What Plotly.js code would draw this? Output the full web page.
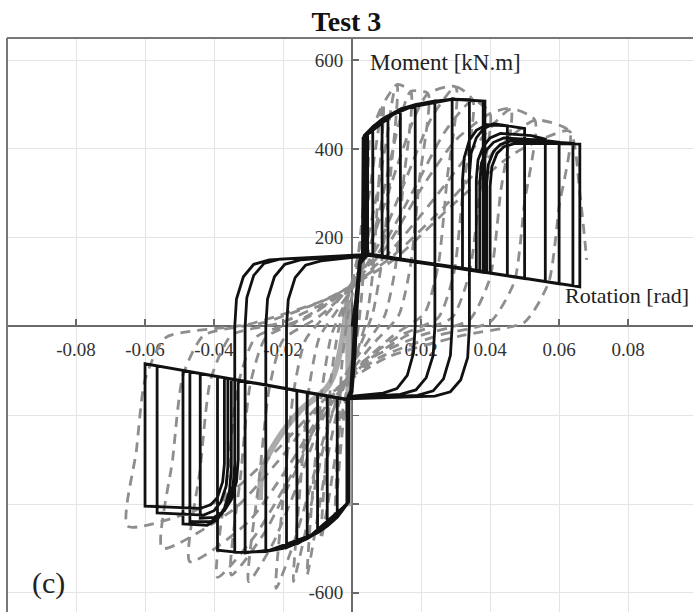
<!DOCTYPE html>
<html>
<head>
<meta charset="utf-8">
<script src="https://cdn.plot.ly/plotly-3.0.1.min.js"></script>
<style>
  html, body { margin: 0; padding: 0; background: #fff; overflow: hidden; }
  #chart { width: 693px; height: 612px; }
</style>
</head>
<body>
<div id="chart"></div>
<script>
// Moment-rotation response, Test 3.
// Numerical model: one continuous path of [rotation (rad), moment (kN.m)] vertices.
const modelPath = [
  // small cycles
  [0,0],[0.0012,70],[0.0022,145],[0.0032,165],[0.0032,425],[0.0045,438],[0.0045,163],[0.0032,165],
  [0.0021,145],[0.0012,70],[0.0006,-40],[-0.0002,-140],[-0.001,-165],[-0.001,-395],[-0.0015,-400],
  [-0.0015,-164],[-0.001,-165],[-0.0001,-145],[0.0008,-60],[0.0014,40],[0.0022,140],[0.0035,163],
  [0.0035,430],[0.006,450],[0.006,161],[0.0035,164],[0.0023,148],[0.0013,75],[0.0005,-45],[-0.0003,-142],
  [-0.0012,-163],[-0.0012,-398],[-0.0043,-430],[-0.0043,-160],[-0.0012,-164],[0,-148],[0.0009,-58],
  [0.0015,45],[0.0024,142],[0.004,162],
  [0.004,434],[0.006,450],[0.0087,467],[0.0087,158],[0.004,163],[0.0022,146],[0.0011,68],[0.0004,-42],
  [-0.0004,-144],[-0.0013,-164],[-0.0013,-399],[-0.0043,-430],[-0.0072,-450],[-0.0072,-156],[-0.0013,-165],
  [-0.0002,-146],[0.0007,-55],[0.0013,42],[0.0021,143],[0.0032,165],
  [0.0032,425],[0.006,450],[0.0087,467],[0.0104,475],[0.0104,156],[0.0032,166],[0.0021,145],[0.0012,70],
  [0.0006,-40],[-0.0002,-140],[-0.001,-165],[-0.001,-395],[-0.0043,-430],[-0.0072,-450],[-0.010,-465],
  [-0.010,-152],[-0.001,-166],[-0.0001,-145],[0.0008,-60],[0.0014,40],[0.0022,140],[0.0045,162],
  [0.0045,438],[0.0087,467],[0.014,490],[0.014,152],[0.0045,163],[0.0023,148],[0.0013,75],[0.0005,-45],
  [-0.0003,-142],[-0.0015,-164],[-0.0015,-400],[-0.0072,-450],[-0.013,-478],[-0.013,-148],[-0.0015,-165],
  [0,-148],[0.0009,-58],[0.0015,45],[0.0024,142],[0.0035,163],
  // medium cycles crossing zero moment at the reversal rotation
  [0.0035,430],[0.006,450],[0.014,490],[0.0183,500],[0.0183,0],[0.0178,-60],[0.016,-110],[0.013,-140],
  [0.009,-150],[-0.001,-158],[-0.001,-395],[-0.0072,-450],[-0.016,-490],[-0.016,-144],[-0.001,-165],
  [-0.0001,-145],[0.0008,-60],[0.0014,40],[0.0022,140],[0.004,162],
  [0.004,434],[0.0087,467],[0.014,490],[0.0183,500],[0.024,508],[0.024,0],[0.0235,-65],[0.0215,-115],
  [0.0185,-143],[0.014,-153],[-0.0012,-160],[-0.0012,-398],[-0.0072,-450],[-0.013,-478],[-0.019,-498],
  [-0.019,0],[-0.0185,60],[-0.0165,110],[-0.0135,138],[-0.009,148],[0.0032,158],
  [0.0032,425],[0.006,450],[0.014,490],[0.024,508],[0.029,512],[0.029,0],[0.0285,-65],[0.0265,-118],
  [0.0235,-145],[0.019,-155],[-0.001,-162],[-0.001,-395],[-0.010,-465],[-0.020,-500],[-0.025,-507],
  [-0.025,0],[-0.0245,62],[-0.0225,112],[-0.0195,140],[-0.015,150],[0.0035,160],
  [0.0035,430],[0.006,450],[0.014,490],[0.024,508],[0.029,512],[0.034,511],[0.034,0],[0.0335,-70],
  [0.0315,-120],[0.0285,-147],[0.024,-157],[-0.0015,-163],[-0.0015,-400],[-0.010,-465],[-0.020,-500],
  [-0.031,-510],[-0.031,0],[-0.0305,65],[-0.0285,115],[-0.0255,142],[-0.021,152],[0.004,162],
  [0.004,434],[0.0087,467],[0.019,501],[0.029,512],[0.038,508],[0.038,122],[0.004,163],[0.0022,146],
  [0.0011,68],[0.0004,-42],[-0.0004,-144],[-0.001,-165],[-0.001,-395],[-0.010,-465],[-0.025,-507],
  [-0.033,-509],[-0.039,-504],[-0.039,-113],[-0.001,-166],[-0.0001,-145],[0.0008,-60],[0.0014,40],
  [0.0022,140],[0.003,165],
  [0.0032,425],[0.014,490],[0.029,512],[0.0385,508],[0.0385,124],[0.003,165],[0.0021,145],[0.0012,70],
  [0.0006,-40],[-0.0002,-140],[-0.0012,-165],[-0.0012,-398],[-0.013,-478],[-0.025,-507],[-0.034,-509],
  [-0.034,0],[-0.0335,62],[-0.0315,112],[-0.0285,140],[-0.024,150],[0.003,162],
  // large cycles with degraded strength
  [0.032,130],[0.032,330],[0.0325,380],[0.034,420],[0.036,442],[0.039,455],[0.045,452],[0.045,114],
  [0.003,166],[0.0021,145],[0.0012,70],[0.0006,-40],[-0.0002,-140],[-0.001,-165],[-0.033,-121],
  [-0.033,-300],[-0.0335,-350],[-0.035,-390],[-0.037,-415],[-0.040,-430],[-0.044,-432],[-0.044,-106],
  [-0.001,-165],[-0.0001,-145],[0.0008,-60],[0.0014,40],[0.0022,140],[0.003,164],
  [0.034,128],[0.034,340],[0.0345,390],[0.036,425],[0.038,445],[0.041,457],[0.05,446],[0.05,108],
  [0.003,165],[0.0023,148],[0.0013,75],[0.0005,-45],[-0.0003,-142],[-0.0012,-164],[-0.034,-119],
  [-0.034,-310],[-0.0345,-360],[-0.036,-400],[-0.038,-425],[-0.041,-440],[-0.047,-440],[-0.047,-102],
  [-0.0012,-164],[0,-148],[0.0009,-58],[0.0015,45],[0.0024,142],[0.0035,163],
  [0.036,125],[0.036,330],[0.0365,375],[0.038,405],[0.040,425],[0.043,435],[0.052,430],[0.056,422],
  [0.056,101],[0.0035,165],[0.0022,146],[0.0011,68],[0.0004,-42],[-0.0004,-144],[-0.0013,-165],
  [-0.035,-118],[-0.035,-320],[-0.0355,-370],[-0.037,-410],[-0.039,-435],[-0.042,-448],[-0.049,-445],
  [-0.049,-99],[-0.0013,-165],[-0.0002,-146],[0.0007,-55],[0.0013,42],[0.0021,143],[0.003,165],
  [0.037,124],[0.037,325],[0.0375,368],[0.039,398],[0.041,415],[0.044,425],[0.055,420],[0.060,415],
  [0.060,96],[0.003,166],[0.0021,145],[0.0012,70],[0.0006,-40],[-0.0002,-140],[-0.001,-165],
  [-0.036,-117],[-0.036,-315],[-0.0365,-360],[-0.038,-395],[-0.040,-415],[-0.043,-425],[-0.0565,-420],
  [-0.0565,-89],[-0.001,-165],[-0.0001,-145],[0.0008,-60],[0.0014,40],[0.0022,140],[0.0032,165],
  [0.039,122],[0.039,320],[0.0395,365],[0.041,395],[0.043,410],[0.046,418],[0.058,416],[0.064,413],
  [0.064,92],[0.0032,165],[0.0023,148],[0.0013,75],[0.0005,-45],[-0.0003,-142],[-0.0012,-164],
  [-0.037,-116],[-0.037,-310],[-0.0375,-350],[-0.039,-385],[-0.041,-402],[-0.044,-410],[-0.060,-405],
  [-0.060,-84],[-0.0012,-164],[0,-148],[0.0009,-58],[0.0015,45],[0.0024,142],[0.0035,163],
  [0.040,121],[0.040,315],[0.0405,360],[0.042,390],[0.044,405],[0.047,412],[0.060,412],[0.066,411],
  [0.066,89],[0.0035,164],[0.0022,146],[0.0011,68],[0.0004,-42],[-0.0004,-144],[-0.0013,-165]
];

// Test record: cycles of increasing amplitude, [rotation (rad), moment (kN.m)].
const testPath = [
  [0.005,420],[0.004,250],[0.003,90],[0.0015,-20],[-0.001,-110],[-0.003,-250],[-0.005,-430],
  [-0.004,-260],[-0.003,-90],[-0.0015,10],[0.001,110],[0.003,250],[0.005,420],
  [0.009,500],[0.0075,300],[0.006,120],[0.004,10],[0.001,-70],[-0.002,-160],[-0.005,-300],[-0.007,-400],
  [-0.009,-480],[-0.0075,-290],[-0.006,-110],[-0.004,-10],[-0.001,70],[0.002,170],[0.005,300],[0.007,410],
  [0.009,500],
  [0.013,545],[0.011,330],[0.0085,140],[0.006,30],[0.002,-50],[-0.003,-150],[-0.007,-290],[-0.010,-430],
  [-0.013,-560],[-0.011,-330],[-0.0085,-130],[-0.006,-20],[-0.002,55],[0.003,150],[0.007,290],
  [0.010,420],[0.013,545],
  [0.017,530],[0.0148,320],[0.0125,130],[0.0095,25],[0.004,-40],[-0.002,-110],[-0.007,-230],[-0.011,-370],
  [-0.014,-480],[-0.017,-575],[-0.0148,-340],[-0.0125,-140],[-0.0095,-25],[-0.004,40],[0.002,110],
  [0.007,230],[0.011,370],[0.014,470],[0.017,530],
  [0.022,525],[0.0195,330],[0.017,140],[0.0135,25],[0.006,-40],[-0.001,-110],[-0.007,-220],[-0.012,-360],
  [-0.017,-490],[-0.022,-590],[-0.0195,-350],[-0.017,-150],[-0.0135,-30],[-0.006,40],[0.001,110],
  [0.007,220],[0.013,360],[0.018,470],[0.022,525],
  [0.03,540],[0.0275,330],[0.025,140],[0.021,30],[0.012,-20],[0.002,-90],[-0.008,-200],[-0.016,-360],
  [-0.023,-490],[-0.03,-575],[-0.027,-350],[-0.024,-140],[-0.02,-30],[-0.01,20],[0,90],[0.008,190],
  [0.016,340],[0.023,470],[0.03,540],
  [0.035,510],[0.0322,310],[0.0295,120],[0.025,20],[0.014,-20],[0.003,-80],[-0.007,-170],[-0.016,-320],
  [-0.025,-460],[-0.035,-560],[-0.0322,-330],[-0.0295,-130],[-0.025,-25],[-0.013,20],[-0.002,80],
  [0.008,170],[0.018,310],[0.027,440],[0.035,510],
  [0.04,480],[0.037,300],[0.034,120],[0.029,20],[0.016,-20],[0.004,-80],[-0.008,-190],[-0.018,-340],
  [-0.028,-470],[-0.039,-565],[-0.036,-330],[-0.033,-130],[-0.028,-25],[-0.015,15],[-0.002,80],
  [0.01,180],[0.02,310],[0.03,420],[0.04,480],
  [0.046,490],[0.043,300],[0.04,110],[0.034,15],[0.02,-20],[0.006,-70],[-0.006,-160],[-0.018,-310],
  [-0.03,-440],[-0.047,-530],[-0.044,-320],[-0.041,-120],[-0.035,-20],[-0.02,10],[-0.004,70],
  [0.01,160],[0.024,290],[0.036,410],[0.046,490],
  [0.053,465],[0.05,280],[0.047,100],[0.04,10],[0.025,-20],[0.008,-70],[-0.006,-150],[-0.02,-290],
  [-0.034,-410],[-0.055,-500],[-0.052,-300],[-0.049,-110],[-0.043,-20],[-0.025,10],[-0.005,70],
  [0.012,160],[0.028,280],[0.042,400],[0.053,465],
  [0.063,440],[0.06,270],[0.057,100],[0.05,10],[0.032,-20],[0.01,-70],[-0.006,-150],[-0.022,-280],
  [-0.038,-390],[-0.065,-450],[-0.0625,-280],[-0.060,-120],[-0.054,-25],[-0.03,5],[-0.008,60],
  [0.012,150],[0.03,280],[0.047,390],[0.063,440],[0.066,300],[0.068,150]
];

// Dense overlapping test branches near the origin (drawn as a solid band).
const testBand1 = [[-0.0014,58],[-0.0064,-128],[-0.015,-189],[-0.0217,-256],[-0.0258,-317],[-0.0267,-391]];
const testBand2 = [[-0.0012,60],[-0.0010,-150],[-0.0008,-405]];

const xTickVals = [-0.08, -0.06, -0.04, -0.02, 0.02, 0.04, 0.06, 0.08];
const xTickText = ['-0.08', '-0.06', '-0.04', '-0.02', '0.02', '0.04', '0.06', '0.08'];
const yTickVals = [-600, -400, -200, 200, 400, 600];
const yTickText = ['-600', '', '', '200', '400', '600'];

const serif = 'Liberation Serif, Times New Roman, serif';
const col = (pts, i) => pts.map(p => p[i]);

const bandStyle = { color: 'rgba(150,150,150,0.8)', width: 6 };
const traces = [
  { x: col(testBand1, 0), y: col(testBand1, 1), type: 'scatter', mode: 'lines',
    line: Object.assign({ shape: 'spline' }, bandStyle), hoverinfo: 'skip' },
  { x: col(testBand2, 0), y: col(testBand2, 1), type: 'scatter', mode: 'lines',
    line: bandStyle, hoverinfo: 'skip' },
  { x: col(testPath, 0), y: col(testPath, 1), type: 'scatter', mode: 'lines', name: 'Test',
    line: { color: '#8e8e8e', width: 2.8, dash: '10px,7px', shape: 'spline', smoothing: 0.6, simplify: false } },
  { x: col(modelPath, 0), y: col(modelPath, 1), type: 'scatter', mode: 'lines', name: 'Model',
    line: { color: '#111111', width: 2.8, simplify: false } }
];

const axisCommon = {
  showline: true, linecolor: '#6a6a6a', linewidth: 2,
  ticks: 'inside', ticklen: 6, tickwidth: 1.5, tickcolor: '#6a6a6a',
  showgrid: true, gridcolor: '#e4e4e4', gridwidth: 1,
  zeroline: false, layer: 'below traces', fixedrange: true,
  tickfont: { family: serif, size: 19, color: '#333' }
};

const layout = {
  width: 693, height: 612,
  margin: { l: 7, r: 0, t: 38, b: 0, pad: 0 },
  paper_bgcolor: '#ffffff', plot_bgcolor: '#ffffff',
  showlegend: false,
  title: { text: '<b>Test 3</b>', font: { family: serif, size: 28, color: '#111' },
           xref: 'container', yref: 'container', x: 0.5, y: 0.966, xanchor: 'center', yanchor: 'middle' },
  xaxis: Object.assign({}, axisCommon, {
    range: [-0.1, 0.0988], anchor: 'free', position: 0.4974,
    tickvals: xTickVals, ticktext: xTickText, ticklabelstandoff: 6
  }),
  yaxis: Object.assign({}, axisCommon, {
    range: [-643.3, 650], anchor: 'free', position: 0.503,
    tickvals: yTickVals, ticktext: yTickText, ticklabelstandoff: 4
  }),
  shapes: [
    { type: 'line', xref: 'paper', yref: 'paper', x0: 0, x1: 0, y0: 0, y1: 1,
      line: { color: '#777', width: 2 } },
    { type: 'line', xref: 'paper', yref: 'paper', x0: 0, x1: 1, y0: 1, y1: 1,
      line: { color: '#777', width: 2 } }
  ],
  annotations: [
    { text: 'Moment [kN.m]', xref: 'paper', yref: 'paper', x: 0.526, y: 0.958,
      xanchor: 'left', yanchor: 'middle', showarrow: false,
      font: { family: serif, size: 23, color: '#222' } },
    { text: 'Rotation [rad]', xref: 'paper', yref: 'paper', x: 0.997, y: 0.552,
      xanchor: 'right', yanchor: 'middle', showarrow: false,
      font: { family: serif, size: 22, color: '#222' } },
    { text: '(c)', xref: 'paper', yref: 'paper', x: 0.06, y: 0.05,
      xanchor: 'center', yanchor: 'middle', showarrow: false,
      font: { family: serif, size: 30, color: '#222' } }
  ]
};

Plotly.newPlot('chart', traces, layout, { displayModeBar: false, staticPlot: true });
</script>
</body>
</html>
